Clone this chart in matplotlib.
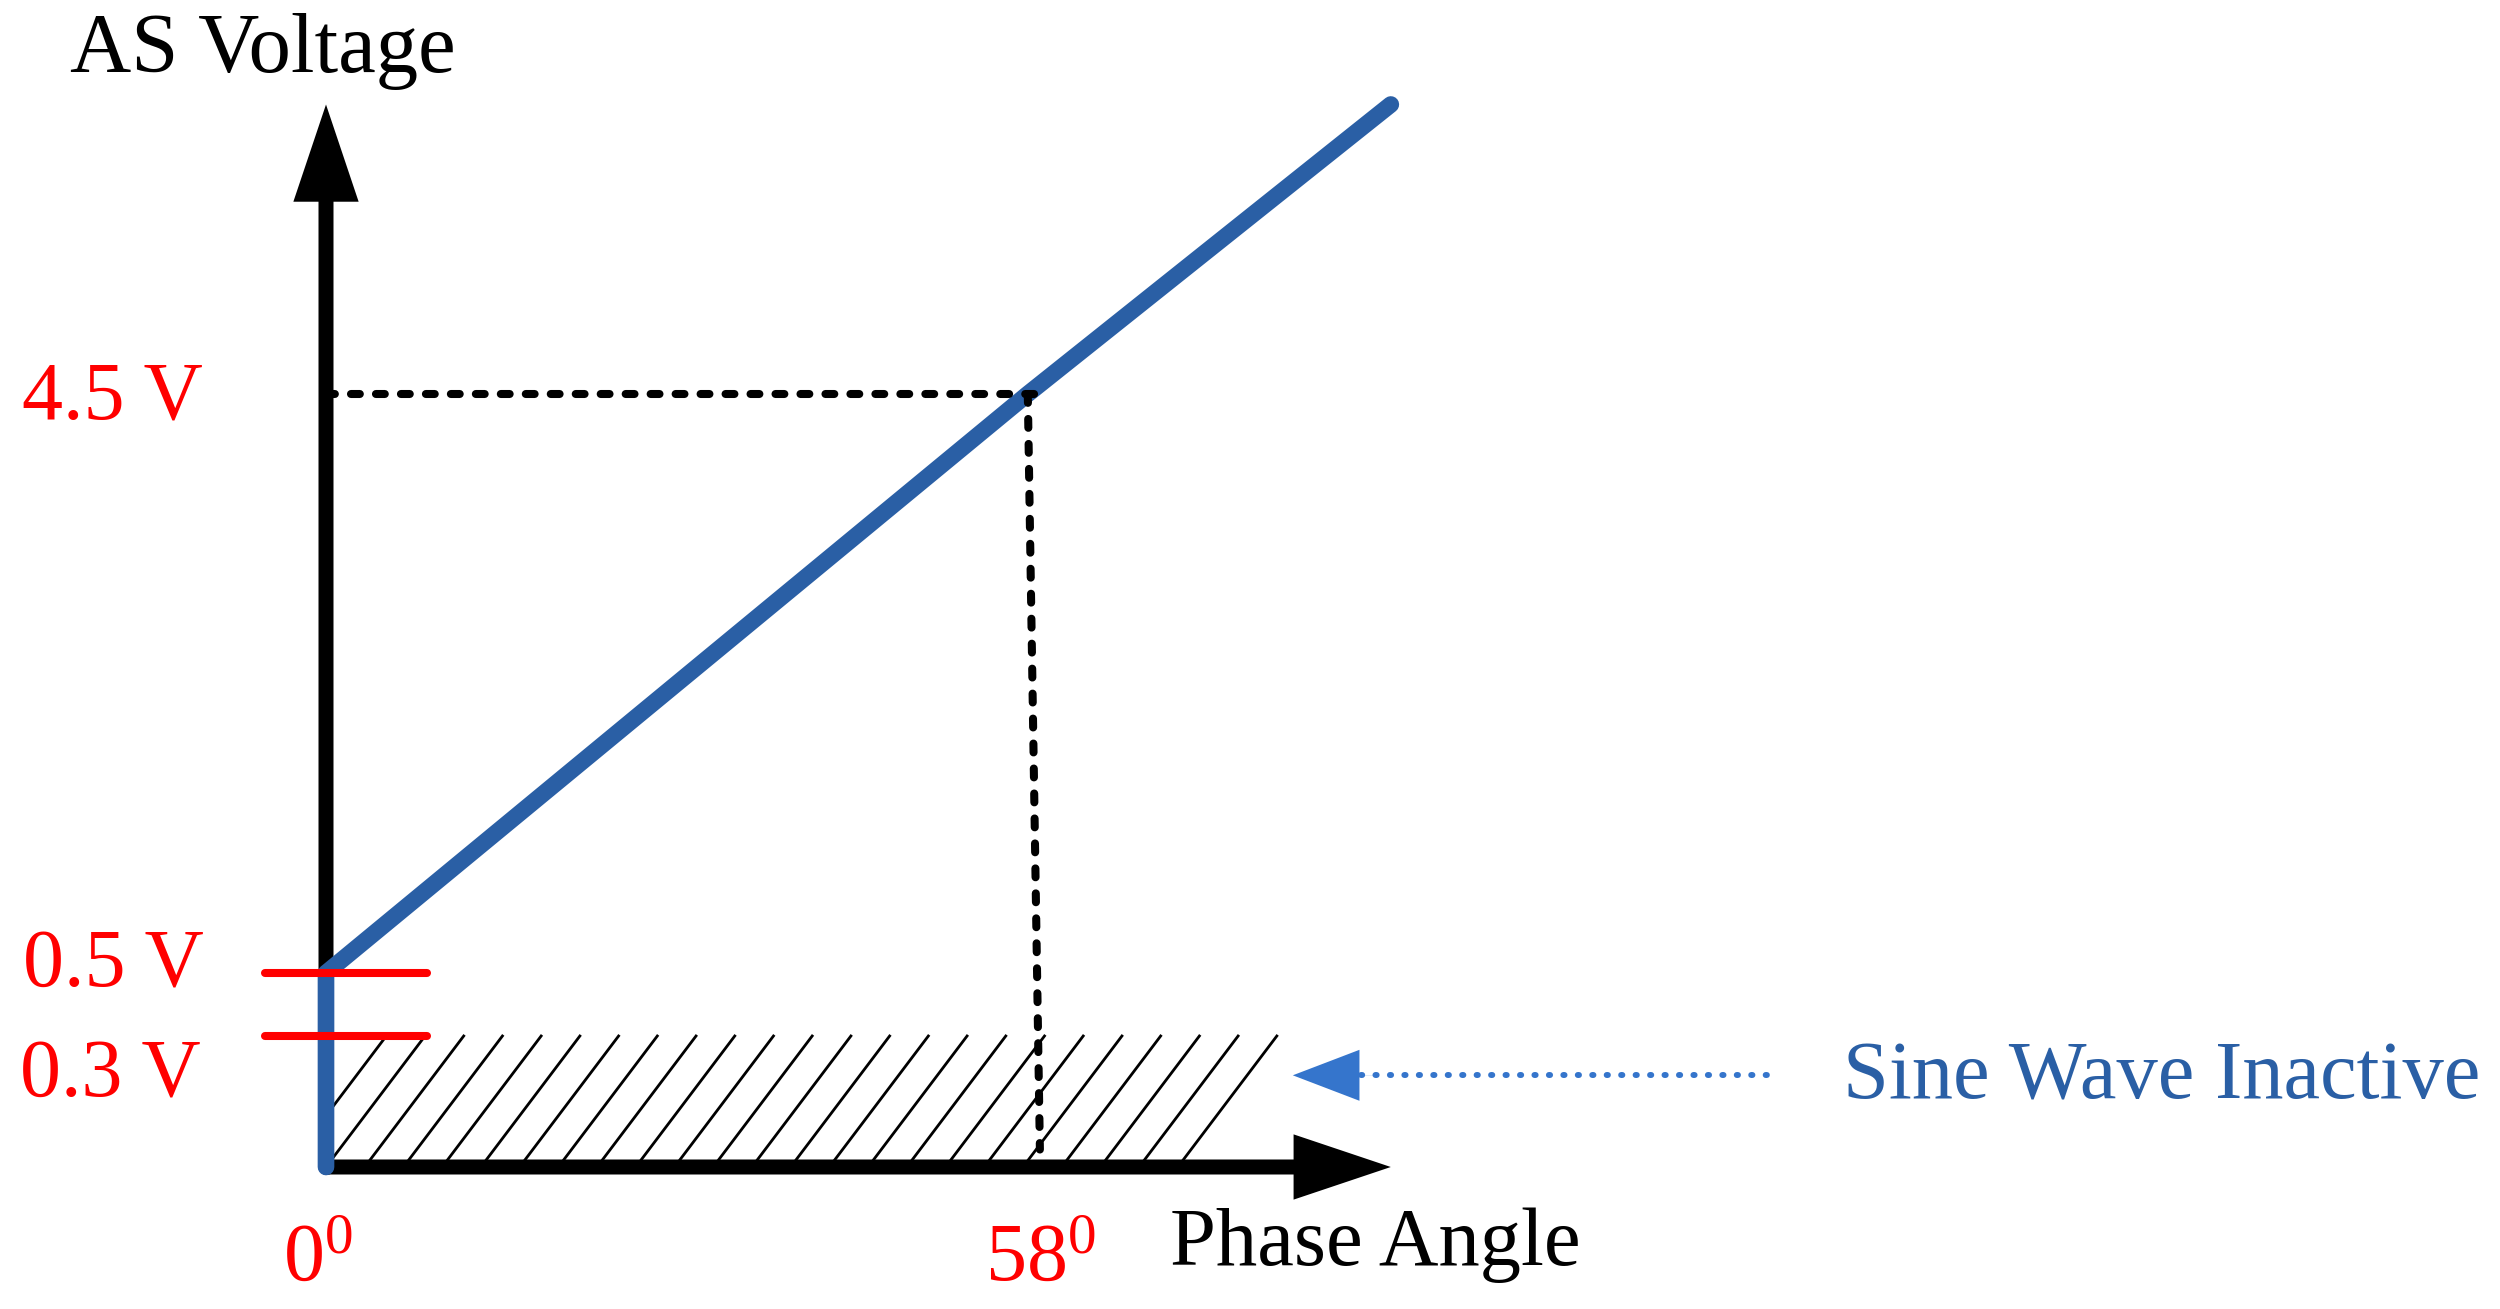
import matplotlib.pyplot as plt
import numpy as np
from matplotlib.patches import FancyArrowPatch, ArrowStyle

plt.rcParams['font.family'] = ['Liberation Serif', 'DejaVu Serif']
plt.rcParams['mathtext.fontset'] = 'custom'
plt.rcParams['mathtext.rm'] = 'Liberation Serif'
plt.rcParams['mathtext.default'] = 'rm'

# AS voltage vs phase angle (schematic)
phase = [0, 0, 58, 88]          # deg
voltage = [0, 0.5, 4.5, 6.5]    # V

level_volts = [4.5, 0.5, 0.3]
level_labels = ['4.5 V', '0.5 V', '0.3 V']
angle_ticks = [0, 58]
angle_labels = [r'$0^0$', r'$58^0$']

inactive_volt = 0.3
inactive_phase_max = 78.6

# ---- layout (schematic, not to scale below 0.5 V) ----
W, H = 2500, 1309
PX_PER_DEG = 12.1
X0_PX = 326
V_BREAK = [-10, 0, 0.3, 0.5, 30]
H_BREAK = [142 - 436.7 * 10, 142, 273, 336, 336 + 144.75 * 29.5]


def fwd(v):
    return np.interp(v, V_BREAK, H_BREAK)


def inv(h):
    return np.interp(h, H_BREAK, V_BREAK)


BLUE = '#2A5FA5'
ARROW_BLUE = '#3575CC'
RED = '#FF0000'
FS = 59

fig = plt.figure(figsize=(W / 100, H / 100), dpi=100)
ax = fig.add_axes([0, 0, 1, 1])
ax.set_yscale('function', functions=(fwd, inv))
ax.set_xlim(-X0_PX / PX_PER_DEG, (W - X0_PX) / PX_PER_DEG)
ax.set_ylim(inv(0), inv(H))
ax.axis('off')

# hatched "inactive" band
run = 8.18      # deg of horizontal run per hatch line
step = 3.2
k = -1
while k * step + run <= inactive_phase_max:
    xb = k * step
    xt = xb + run
    y0 = 0.0
    if xb < 0:
        y0 = inactive_volt * (-xb) / run
        xb = 0
    ax.plot([xb, xt], [y0, inactive_volt], color='k', lw=2, zorder=1)
    k += 1

# axes with arrow heads
axis_style = ArrowStyle.Simple(head_length=70, head_width=47, tail_width=10.8)
for tip in [(0, voltage[-1]), (phase[-1], 0)]:
    ax.add_patch(FancyArrowPatch((0, 0), tip, arrowstyle=axis_style,
                                 mutation_scale=1, shrinkA=0, shrinkB=0,
                                 lw=0, color='k', zorder=2))
ax.plot([0], [0], marker='o', ms=10.8, color='k', mec='none', zorder=2)

# characteristic
ax.plot(phase, voltage, color=BLUE, lw=12, solid_capstyle='round',
        solid_joinstyle='round', zorder=3)

# guide lines to the 58 deg / 4.5 V point
ax.plot([0, phase[2] + 1], [voltage[2], voltage[2]], color='k', lw=5.8,
        ls=(0, (1.1, 2.0)), dash_capstyle='round', zorder=4)
ax.plot([phase[2], phase[2] + 1], [voltage[2], 0.04], color='k', lw=5.8,
        ls=(0, (1.1, 2.0)), dash_capstyle='round', zorder=4)

# red level marks
for v in level_volts[1:]:
    ax.plot([-5.04, 8.35], [v, v], color=RED, lw=5.8,
            solid_capstyle='round', zorder=5)

# level labels
label_dy = [-25, -13, -60]
label_x = [22, 23, 20]
for v, lab, dy, lx in zip(level_volts, level_labels, label_dy, label_x):
    ax.annotate(lab, xy=(lx, v), xycoords=('figure pixels', 'data'),
                xytext=(0, dy), textcoords='offset pixels',
                ha='left', va='baseline', color=RED, fontsize=FS)

for a, lab in zip(angle_ticks, angle_labels):
    ax.annotate(lab, xy=(a, 0), xytext=(-43, -113), textcoords='offset pixels',
                ha='left', va='baseline', color=RED, fontsize=FS)

# axis titles
fig.text(70 / W, (H - 72) / H, 'AS Voltage', fontsize=61, ha='left',
         va='baseline')
fig.text(1170 / W, 44 / H, 'Phase Angle', fontsize=59.5, ha='left',
         va='baseline')

# "Sine Wave Inactive" pointer
ax.plot([85.5, 119.7], [0.21, 0.21], color=ARROW_BLUE, lw=4.3,
        ls=(0, (0.2, 2.22)), dash_capstyle='round', zorder=4)
ax.add_patch(FancyArrowPatch((87.0, 0.21), (79.9, 0.21),
                             arrowstyle=ArrowStyle.Simple(head_length=48,
                                                          head_width=36.7,
                                                          tail_width=0.1),
                             mutation_scale=1, shrinkA=0, shrinkB=0,
                             lw=0, color=ARROW_BLUE, zorder=4))
fig.text(1843 / W, 211 / H, 'Sine Wave Inactive', fontsize=59.3, color=BLUE,
         ha='left', va='baseline')

fig.savefig('out.png', dpi=100)
